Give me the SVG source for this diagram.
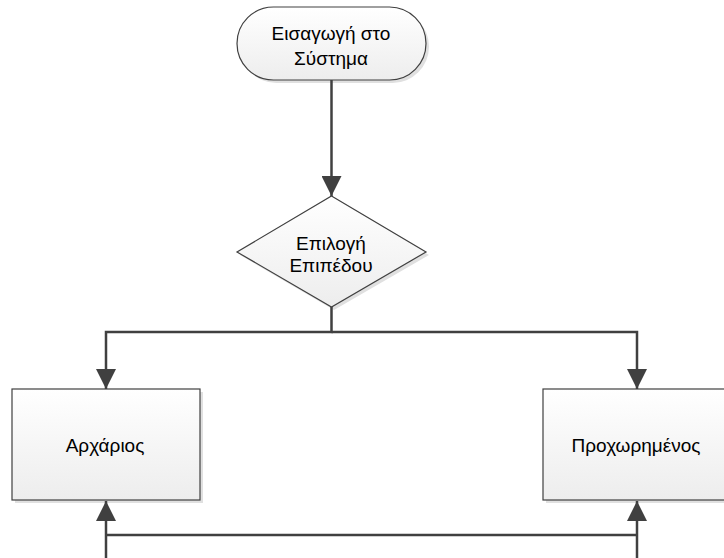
<svg xmlns="http://www.w3.org/2000/svg" width="724" height="558" viewBox="0 0 724 558">
<defs>
<linearGradient id="g" x1="0" y1="0" x2="0" y2="1">
<stop offset="0" stop-color="#ffffff"/>
<stop offset="1" stop-color="#ededed"/>
</linearGradient>
<marker id="ah" viewBox="0 0 20 20" refX="20" refY="10" markerWidth="20" markerHeight="20" markerUnits="userSpaceOnUse" orient="auto">
<path d="M0,0 L20,10 L0,20 Z" fill="#404040"/>
</marker>
<style>
.shape{fill:url(#g);stroke:#404040;stroke-width:1.2}
.shadow{fill:#e0e0e0;stroke:none}
.lbl{font-family:"Liberation Sans",Arial,sans-serif;font-size:19px;fill:#000;text-anchor:middle}
.conn{fill:none;stroke:#404040;stroke-width:2.5}
</style>
</defs>
<rect width="724" height="558" fill="#ffffff"/>
<g id="start">
<rect class="shadow" x="240" y="10" width="189" height="73" rx="36.5"/>
<rect class="shape" x="237" y="7" width="189" height="73" rx="36.5"/>
<text class="lbl" x="331" y="40">Εισαγωγή στο</text>
<text class="lbl" x="331" y="65">Σύστημα</text>
</g>
<g id="decision">
<polygon class="shadow" points="334,199 429,255 334,310 240,255"/>
<polygon class="shape" points="331.5,196 426,252 331.5,307 237,252"/>
<text class="lbl" x="331" y="250">Επιλογή</text>
<text class="lbl" x="331" y="272">Επιπέδου</text>
</g>
<g id="beginner">
<rect class="shadow" x="15" y="392" width="188" height="111"/>
<rect class="shape" x="12" y="389" width="188" height="111"/>
<text class="lbl" x="105" y="452">Αρχάριος</text>
</g>
<g id="advanced">
<rect class="shadow" x="546" y="392" width="190" height="111"/>
<rect class="shape" x="543" y="389" width="190" height="111"/>
<text class="lbl" x="636" y="452">Προχωρημένος</text>
</g>
<g id="connectors">
<path class="conn" d="M331.5,80 V196" marker-end="url(#ah)"/>
<path class="conn" d="M331.5,307 V332 H106 V389" marker-end="url(#ah)"/>
<path class="conn" d="M331.5,332 H637 V389" marker-end="url(#ah)"/>
<path class="conn" d="M637,535 H106" />
<path class="conn" d="M106,560 V501" marker-end="url(#ah)"/>
<path class="conn" d="M637,560 V501" marker-end="url(#ah)"/>
<path class="conn" d="M106,559.2 H637"/>
</g>
</svg>
